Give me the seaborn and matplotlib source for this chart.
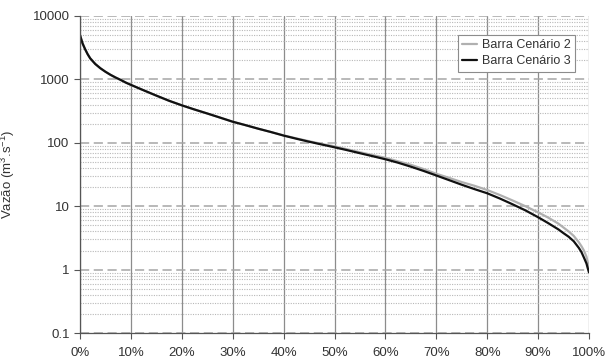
import numpy as np
import pandas as pd
import matplotlib
matplotlib.use("Agg")
import matplotlib.pyplot as plt
import seaborn as sns
from matplotlib.ticker import FixedLocator, LogLocator, NullFormatter, FuncFormatter

# Flow-duration curves: exceedance percentage vs. discharge
pct = [0, 0.5, 1, 1.5, 2, 3, 4, 5, 6, 7, 8, 9, 10, 12, 15, 17.5, 20, 22.5,
       25, 27.5, 30, 32.5, 35, 37.5, 40, 42.5, 45, 47.5, 50, 52.5, 55, 57.5,
       60, 62.5, 65, 67.5, 70, 72.5, 75, 77.5, 80, 82.5, 85, 87.5, 90, 92,
       94, 95, 96, 97, 98, 98.5, 99, 99.5, 99.8, 100]
cenario3 = [5000, 3700, 3000, 2500, 2150, 1750, 1500, 1320, 1180, 1070, 980,
            890, 820, 700, 555, 460, 390, 335, 290, 250, 215, 190, 167, 148,
            130, 116, 104, 94, 85, 76.5, 68.5, 61.5, 55, 48.5, 42, 36, 30.5,
            25.8, 21.8, 18.6, 16, 13.2, 10.7, 8.6, 6.7, 5.4, 4.3, 3.75, 3.3,
            2.8, 2.2, 1.9, 1.55, 1.25, 1.02, 0.9]
cenario2 = [5000, 3700, 3000, 2500, 2150, 1750, 1500, 1320, 1180, 1070, 980,
            890, 820, 700, 555, 460, 390, 335, 290, 250, 215, 190, 167, 148,
            131, 117.5, 106, 96, 88, 79, 71, 64, 58, 51, 45, 38.5, 32.5, 28,
            24, 21, 18, 15, 12.3, 10, 8.0, 6.6, 5.3, 4.6, 4.0, 3.4, 2.7,
            2.35, 2.0, 1.6, 1.25, 1.05]
series_names = ["Barra Cenário 2", "Barra Cenário 3"]
x_ticks = [0, 10, 20, 30, 40, 50, 60, 70, 80, 90, 100]
y_ticks = [0.1, 1, 10, 100, 1000, 10000]

df = pd.DataFrame({
    "pct": pct * 2,
    "vazao": cenario2 + cenario3,
    "serie": [series_names[0]] * len(pct) + [series_names[1]] * len(pct),
})

sns.set_style("white")
plt.rcParams["font.family"] = ["Liberation Sans", "DejaVu Sans"]
plt.rcParams["mathtext.fontset"] = "custom"
plt.rcParams["mathtext.rm"] = "Liberation Sans"
plt.rcParams["mathtext.it"] = "Liberation Sans"

text_color = "#333333"
fig = plt.figure(figsize=(6.08, 3.6), dpi=100)
ax = fig.add_axes([80 / 608, 1 - 333 / 360, 509 / 608, 317 / 360])

ax.set_yscale("log")
ax.set_ylim(0.1, 10000)
ax.set_xlim(0, 100)

# grid: solid verticals, dashed decades, dotted sub-decades
ax.xaxis.set_major_locator(FixedLocator(x_ticks))
ax.yaxis.set_major_locator(FixedLocator(y_ticks))
ax.yaxis.set_minor_locator(LogLocator(base=10, subs=np.arange(2, 10), numticks=20))
ax.yaxis.set_minor_formatter(NullFormatter())
ax.grid(True, axis="x", which="major", color="#8c8c8c", lw=0.9, ls="-")
ax.grid(True, axis="y", which="major", color="#a6a6a6", lw=1.1, ls=(0, (6, 3)))
ax.grid(True, axis="y", which="minor", color="#b8b8b8", lw=0.8, ls=(0, (1, 1.2)))
ax.set_axisbelow(True)

sns.lineplot(data=df, x="pct", y="vazao", hue="serie", hue_order=series_names,
             palette=["#b0b0b0", "#111111"], linewidth=1.6, ax=ax)

ax.xaxis.set_major_formatter(FuncFormatter(lambda v, p: f"{int(v)}%"))
ax.yaxis.set_major_formatter(FuncFormatter(lambda v, p: f"{v:g}"))
ax.tick_params(axis="both", which="major", direction="out", length=4,
               width=0.8, color="#555555", labelsize=9.5, labelcolor=text_color,
               left=True, bottom=True)
ax.tick_params(axis="y", which="minor", length=0)
ax.tick_params(axis="x", pad=6)

for side in ["top", "right"]:
    ax.spines[side].set_visible(False)
for side in ["left", "bottom"]:
    ax.spines[side].set_color("#555555")
    ax.spines[side].set_linewidth(0.9)

ax.set_xlabel("")
ax.set_ylabel("Vazão (m$^3$.s$^{-1}$)", fontsize=9.5, color=text_color)
ax.yaxis.set_label_coords((17 - 80) / 509, 0.5)

leg = ax.legend(loc="upper right", bbox_to_anchor=((575 - 80) / 509, (333 - 35) / 317),
                frameon=True, fancybox=False, fontsize=9, handlelength=1.2,
                handletextpad=0.4, borderpad=0.35, labelspacing=0.3,
                borderaxespad=0)
leg.get_frame().set_edgecolor("#8c8c8c")
leg.get_frame().set_linewidth(0.8)
leg.get_frame().set_alpha(1)
for t in leg.get_texts():
    t.set_color(text_color)

fig.savefig("out.png", dpi=100)
